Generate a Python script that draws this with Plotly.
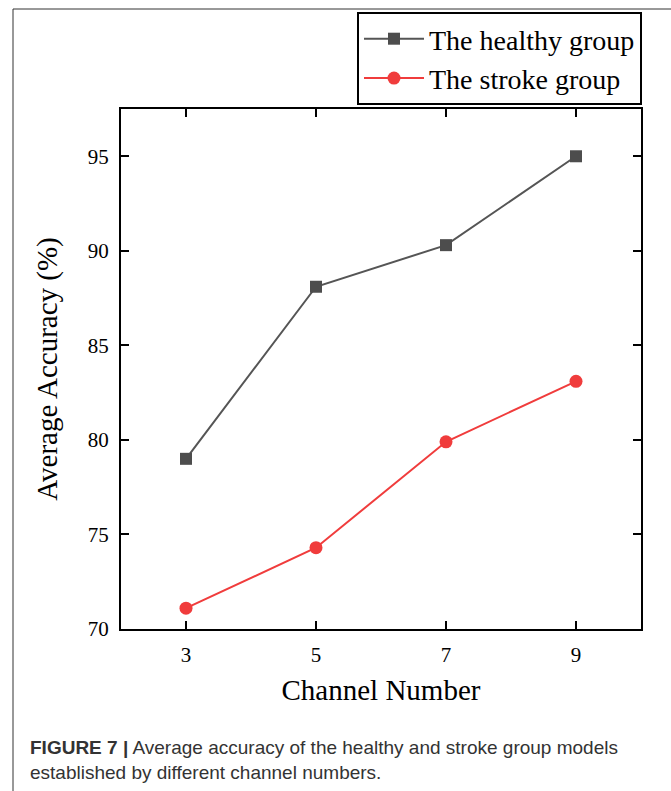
import plotly.graph_objects as go

channels = [3, 5, 7, 9]
healthy = [79.0, 88.1, 90.3, 95.0]
stroke = [71.1, 74.3, 79.9, 83.1]
x_ticks = [3, 5, 7, 9]
y_ticks = [70, 75, 80, 85, 90, 95]

W, H = 671, 791
L, R, T, B = 121, 30, 109, 162
pw = W - L - R
ph = H - T - B

def px(x):
    return (x - L) / pw

def py(y):
    return (H - B - y) / ph

serif = "Liberation Serif, Times New Roman, serif"
sans = "Liberation Sans, Arial, sans-serif"

fig = go.Figure()
fig.add_trace(go.Scatter(
    x=channels, y=healthy, mode="lines+markers", name="The healthy group",
    line=dict(color="#555555", width=2),
    marker=dict(symbol="square", size=12, color="#4d4d4d"),
))
fig.add_trace(go.Scatter(
    x=channels, y=stroke, mode="lines+markers", name="The stroke group",
    line=dict(color="#f03c3c", width=2),
    marker=dict(symbol="circle", size=13, color="#f03c3c"),
))

axis_common = dict(
    showline=True, linecolor="black", linewidth=2, mirror="ticks",
    ticks="inside", ticklen=8, tickwidth=2, tickcolor="black",
    showgrid=False, zeroline=False,
    tickfont=dict(family=serif, size=21, color="black"),
)

fig.update_xaxes(range=[2, 10], tickvals=x_ticks,
                 title=dict(text="Channel Number", font=dict(family=serif, size=29, color="black"), standoff=13),
                 ticklabelstandoff=6, **axis_common)
fig.update_yaxes(range=[70, 97.5], tickvals=y_ticks,
                 title=dict(text="Average Accuracy (%)", font=dict(family=serif, size=29, color="black"), standoff=22),
                 ticklabelstandoff=6, **axis_common)

fig.update_layout(
    width=W, height=H,
    margin=dict(l=L, r=R, t=T, b=B),
    paper_bgcolor="white", plot_bgcolor="white",
    legend=dict(
        x=px(642), xanchor="right", y=py(105), yanchor="bottom",
        bordercolor="black", borderwidth=2, bgcolor="white",
        font=dict(family=serif, size=28, color="black"),
        tracegroupgap=0, itemwidth=60,
    ),
    shapes=[
        dict(type="line", xref="paper", yref="paper", x0=px(13), x1=px(700), y0=py(9), y1=py(9),
             line=dict(color="#333333", width=1)),
        dict(type="line", xref="paper", yref="paper", x0=px(13), x1=px(13), y0=py(9), y1=py(820),
             line=dict(color="#333333", width=1)),
    ],
    annotations=[
        dict(xref="paper", yref="paper", x=px(28), y=py(747), xanchor="left", yanchor="middle",
             showarrow=False, align="left",
             text="<b>FIGURE 7 |</b> Average accuracy of the healthy and stroke group models",
             font=dict(family=sans, size=19, color="#333333")),
        dict(xref="paper", yref="paper", x=px(28), y=py(772), xanchor="left", yanchor="middle",
             showarrow=False, align="left",
             text="established by different channel numbers.",
             font=dict(family=sans, size=19, color="#333333")),
    ],
)

fig.write_html("out.html")
